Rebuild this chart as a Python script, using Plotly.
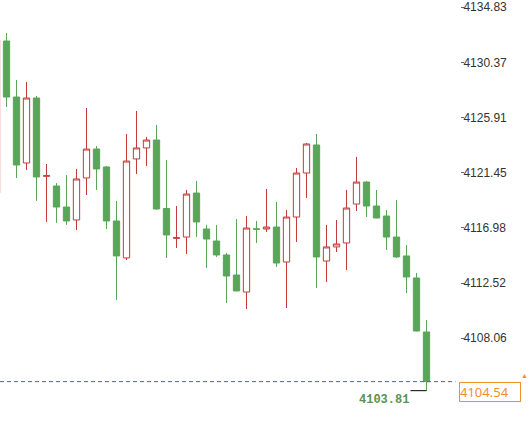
import plotly.graph_objects as go

# candle data (index 0 is cut off at the left edge)
bar_idx = list(range(44))
opens = [4119.80, 4132.10, 4127.57, 4122.23, 4127.49, 4121.16, 4120.37, 4118.67,
         4117.62, 4121.02, 4123.36, 4121.91, 4117.54, 4114.55, 4122.56, 4123.45,
         4124.09, 4118.55, 4116.14, 4116.24, 4119.80, 4116.89, 4115.92, 4114.79,
         4113.17, 4111.79, 4116.91, 4116.89, 4117.05, 4114.22, 4117.86, 4121.42,
         4123.69, 4114.30, 4115.44, 4115.76, 4118.91, 4120.69, 4118.75, 4117.94,
         4116.24, 4114.71, 4112.93, 4108.56]
highs = [4132.50, 4132.75, 4128.95, 4128.79, 4127.65, 4122.15, 4120.61, 4121.26,
         4121.75, 4126.68, 4123.61, 4121.99, 4119.16, 4124.58, 4126.44, 4124.34,
         4125.31, 4122.47, 4118.75, 4120.05, 4120.78, 4117.22, 4117.22, 4114.95,
         4117.70, 4117.94, 4117.54, 4120.13, 4119.08, 4118.43, 4121.83, 4123.85,
         4124.58, 4117.22, 4117.62, 4120.05, 4122.72, 4120.78, 4120.05, 4118.43,
         4119.24, 4115.60, 4113.33, 4109.53]
lows = [4119.50, 4126.76, 4121.02, 4121.67, 4119.16, 4117.46, 4117.38, 4117.22,
        4116.81, 4119.64, 4120.05, 4116.89, 4111.15, 4114.38, 4121.34, 4121.99,
        4118.45, 4114.55, 4115.35, 4114.87, 4116.24, 4113.74, 4114.63, 4110.90,
        4111.85, 4110.42, 4115.76, 4116.65, 4113.82, 4110.50, 4115.84, 4119.40,
        4112.12, 4112.60, 4115.03, 4113.57, 4118.35, 4117.86, 4117.75, 4115.19,
        4114.55, 4111.71, 4108.60, 4103.81]
closes = [4132.18, 4127.57, 4122.07, 4127.49, 4121.10, 4121.20, 4118.67, 4117.54,
          4120.94, 4123.36, 4121.75, 4117.54, 4114.71, 4122.39, 4123.45, 4124.09,
          4118.51, 4116.41, 4116.18, 4119.72, 4117.46, 4116.08, 4114.79, 4113.09,
          4111.88, 4116.97, 4116.87, 4117.05, 4114.14, 4117.86, 4121.42, 4123.77,
          4114.63, 4115.44, 4115.68, 4118.59, 4120.69, 4118.75, 4117.78, 4116.24,
          4114.63, 4113.01, 4108.64, 4104.54]

y_ticks = [4134.83, 4130.37, 4125.91, 4121.45, 4116.98, 4112.52, 4108.06]
last_price = closes[-1]
low_price = min(lows)
low_idx = lows.index(low_price)

RED = '#c23b3d'
GREEN = '#5aa55a'
ORANGE = '#f0902a'

fig = go.Figure()
fig.add_trace(go.Candlestick(
    x=bar_idx, open=opens, high=highs, low=lows, close=closes,
    increasing=dict(line=dict(color=RED, width=1), fillcolor='white'),
    decreasing=dict(line=dict(color=GREEN, width=1), fillcolor=GREEN),
    whiskerwidth=0,
    hoverinfo='skip',
))

# last price dashed line
fig.add_shape(type='line', xref='paper', x0=0, x1=0.99,
              y0=last_price, y1=last_price,
              line=dict(color='#1f72d0', width=1, dash='4px,3px'))

# last price tag on the axis
fig.add_annotation(
    xref='paper', x=0.998, y=last_price, xanchor='left', yanchor='top',
    text=f'{last_price:.2f}', showarrow=False, align='left',
    font=dict(family='Noto Sans', size=13, color=ORANGE),
    bordercolor=ORANGE, borderwidth=1, borderpad=0, bgcolor='white',
    width=60,
)
fig.add_annotation(
    xref='paper', x=1.0, y=last_price, xanchor='left', yanchor='bottom',
    xshift=59, text='▲', showarrow=False,
    font=dict(size=7, color=ORANGE),
)

# lowest price marker
fig.add_annotation(
    x=low_idx, y=low_price, text=f'{low_price:.2f}',
    showarrow=True, arrowhead=0, arrowwidth=1, arrowcolor='black',
    ax=-16, ay=0, xanchor='right', yanchor='top',
    font=dict(family='Liberation Mono', size=12, color='#5e9152', weight='bold'),
)

fig.update_layout(
    width=528, height=427,
    margin=dict(l=0, r=68, t=0, b=0),
    paper_bgcolor='white', plot_bgcolor='white',
    showlegend=False,
    boxgap=0.1,
    xaxis=dict(range=[0.35, 46.35], visible=False, rangeslider=dict(visible=False)),
    yaxis=dict(
        range=[4100.87, 4135.42], side='right',
        tickvals=y_ticks, ticktext=[f'{v:.2f}' for v in y_ticks],
        showgrid=False, zeroline=False, showline=False,
        ticks='outside', ticklen=3, tickcolor='#666',
        ticklabelstandoff=-3,
        tickfont=dict(family='Arial', size=12, color='#333'),
    ),
)

# drop the browser's default body margin so the chart fills the window
fig.write_html("out.html", config={'displayModeBar': False},
               post_script="document.body.style.margin = '0';")
